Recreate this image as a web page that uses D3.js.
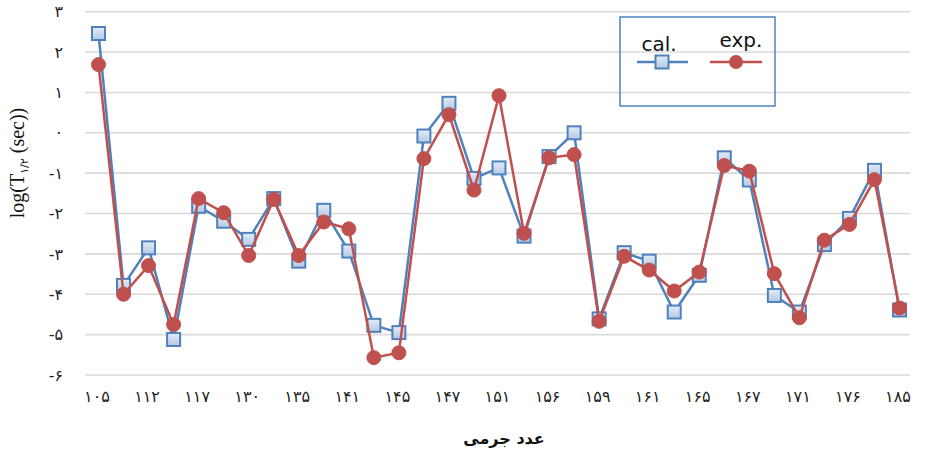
<!DOCTYPE html>
<html>
<head>
<meta charset="utf-8">
<script src="https://cdn.jsdelivr.net/npm/d3@7/dist/d3.min.js"></script>
<style>
  html, body { margin: 0; padding: 0; background: #fff; }
  svg { display: block; }
</style>
</head>
<body>
<svg id="chart" width="925" height="450"></svg>
<script>
// ---- Data ----
const massLabels = ["105","112","117","130","135","141","145","147","151","156","159","161","165","167","171","176","185"];
const calValues = [2.46,-3.78,-2.85,-5.12,-1.82,-2.19,-2.64,-1.63,-3.18,-1.92,-2.93,-4.77,-4.95,-0.08,0.73,-1.13,-0.87,-2.56,-0.59,0.0,-4.61,-2.97,-3.18,-4.44,-3.53,-0.62,-1.17,-4.03,-4.44,-2.77,-2.12,-0.93,-4.39];
const expValues = [1.69,-4.0,-3.29,-4.75,-1.63,-1.98,-3.04,-1.65,-3.04,-2.21,-2.38,-5.57,-5.45,-0.64,0.45,-1.42,0.92,-2.49,-0.62,-0.54,-4.67,-3.06,-3.40,-3.92,-3.45,-0.81,-0.95,-3.49,-4.58,-2.66,-2.27,-1.16,-4.34];
const yTicks = [3,2,1,0,-1,-2,-3,-4,-5,-6];
const seriesNames = ["cal.","exp."];

const fa = s => String(s).replace(/\d/g, d => "۰۱۲۳۴۵۶۷۸۹"[d]);

const svg = d3.select("#chart");
const blue = "#4f81bd", red = "#c0504d";

const defs = svg.append("defs");
const grad = defs.append("linearGradient").attr("id","sqFill").attr("x1","0").attr("y1","0").attr("x2","0").attr("y2","1");
grad.append("stop").attr("offset","0%").attr("stop-color","#e4ecf6");
grad.append("stop").attr("offset","100%").attr("stop-color","#b3c9e4");

const idx = d3.range(calValues.length);
const x = d3.scalePoint().domain(idx).range([98.5, 899.5]);
const y = d3.scaleLinear().domain([-6, 3]).range([375, 11.7]);

// gridlines
svg.append("g").selectAll("line").data(yTicks).join("line")
  .attr("x1", 85).attr("x2", 910)
  .attr("y1", d => y(d)).attr("y2", d => y(d))
  .attr("stroke", "#d9d9d9").attr("stroke-width", 1.6);

// y axis labels
const yAxis = d3.axisLeft(y).tickValues(yTicks).tickSize(0).tickPadding(0)
  .tickFormat(d => d < 0 ? "-" + fa(-d) : fa(d));
svg.append("g").attr("transform", "translate(63,0)").call(yAxis)
  .call(g => g.select(".domain").remove())
  .call(g => g.selectAll("text").attr("font-family", "DejaVu Sans").attr("font-size", 16).attr("fill", "#222").attr("direction","ltr"));

// x axis labels
const evenIdx = idx.filter(i => i % 2 === 0);
const xAxis = d3.axisBottom(x).tickValues(evenIdx).tickSize(0).tickPadding(0)
  .tickFormat(i => fa(massLabels[i / 2]));
svg.append("g").attr("transform", "translate(-2,391)").call(xAxis)
  .call(g => g.select(".domain").remove())
  .call(g => g.selectAll("text").attr("font-family", "DejaVu Sans").attr("font-size", 16).attr("fill", "#222"));

// axis titles
svg.append("text").attr("x", 504).attr("y", 444).attr("text-anchor", "middle")
  .attr("font-family", "DejaVu Sans").attr("font-weight", "bold").attr("font-size", 16).attr("fill", "#111")
  .text("عدد جرمی");

const yt = svg.append("text").attr("transform", "translate(24,163) rotate(-90)").attr("text-anchor", "middle")
  .attr("font-family", "Liberation Serif").attr("font-size", 20).attr("fill", "#111");
yt.append("tspan").text("log(T");
yt.append("tspan").attr("font-size", 11).attr("dy", 4).attr("font-family", "DejaVu Sans").text(fa("1") + "/" + fa("2"));
yt.append("tspan").attr("dy", -4).text(" (sec))");

// lines
const line = d3.line().x((d, i) => x(i)).y(d => y(d));
svg.append("path").datum(calValues).attr("d", line).attr("fill", "none").attr("stroke", blue).attr("stroke-width", 2.5);
svg.append("g").selectAll("rect").data(calValues).join("rect")
  .attr("x", (d, i) => x(i) - 6.5).attr("y", d => y(d) - 6.5)
  .attr("width", 13).attr("height", 13)
  .attr("fill", "url(#sqFill)").attr("stroke", blue).attr("stroke-width", 2);

svg.append("path").datum(expValues).attr("d", line).attr("fill", "none").attr("stroke", red).attr("stroke-width", 2.5);
svg.append("g").selectAll("circle").data(expValues).join("circle")
  .attr("cx", (d, i) => x(i)).attr("cy", d => y(d)).attr("r", 7)
  .attr("fill", red).attr("stroke", red).attr("stroke-width", 1);

// legend
const lg = svg.append("g");
lg.append("rect").attr("x", 620).attr("y", 17).attr("width", 155).attr("height", 89)
  .attr("fill", "none").attr("stroke", blue).attr("stroke-width", 1.5);
lg.append("text").attr("x", 659).attr("y", 51).attr("text-anchor", "middle")
  .attr("font-family", "DejaVu Sans").attr("font-size", 20).attr("fill", "#111").text(seriesNames[0]);
lg.append("text").attr("x", 741).attr("y", 47).attr("text-anchor", "middle")
  .attr("font-family", "DejaVu Sans").attr("font-size", 20).attr("fill", "#111").text(seriesNames[1]);
lg.append("line").attr("x1", 637).attr("x2", 688).attr("y1", 62).attr("y2", 62).attr("stroke", blue).attr("stroke-width", 2.5);
lg.append("rect").attr("x", 655.5).attr("y", 55.5).attr("width", 13).attr("height", 13)
  .attr("fill", "url(#sqFill)").attr("stroke", blue).attr("stroke-width", 2);
lg.append("line").attr("x1", 710).attr("x2", 762).attr("y1", 62).attr("y2", 62).attr("stroke", red).attr("stroke-width", 2.5);
lg.append("circle").attr("cx", 736).attr("cy", 62).attr("r", 7).attr("fill", red);
</script>
</body>
</html>
